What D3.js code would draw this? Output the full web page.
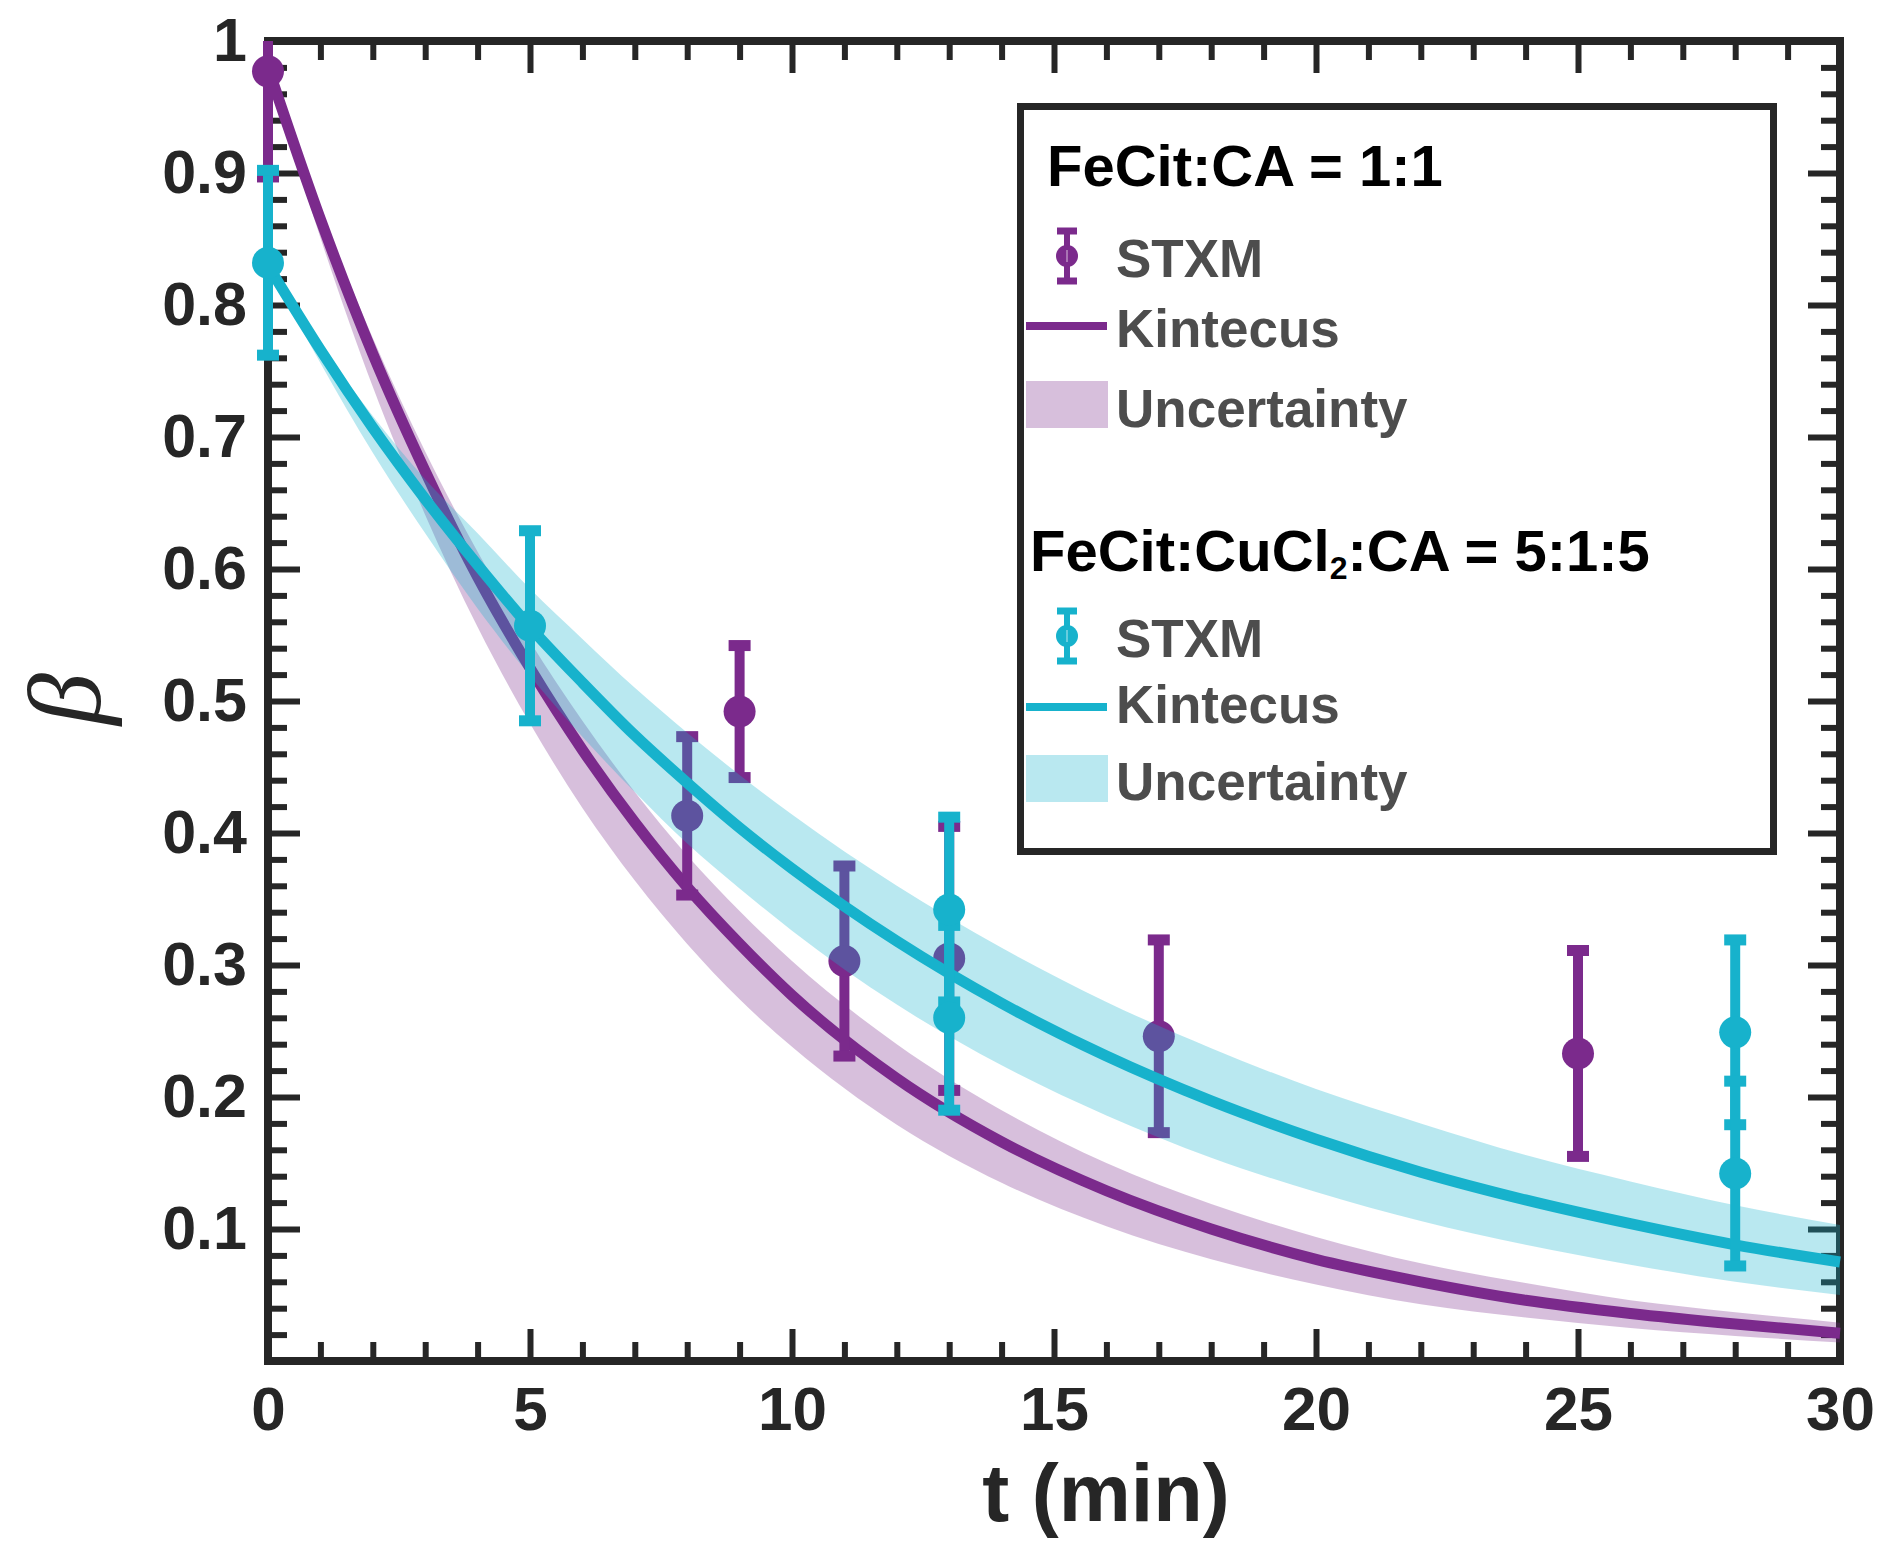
<!DOCTYPE html>
<html>
<head>
<meta charset="utf-8">
<script src="https://cdn.jsdelivr.net/npm/d3@7"></script>
<style>
  html, body { margin: 0; padding: 0; background: #fff; }
  svg { display: block; }
</style>
</head>
<body>
<script>
// ---------------- data ----------------
const purpleT    = [0, 8, 9, 11, 13, 17, 25];
const purpleBeta = [0.977, 0.413, 0.492, 0.303, 0.305, 0.246, 0.233];
const purpleErr  = [0.080, 0.060, 0.050, 0.072, 0.100, 0.073, 0.078];

const cyanT    = [0, 5, 13, 13, 28, 28];
const cyanBeta = [0.832, 0.557, 0.342, 0.260, 0.249, 0.142];
const cyanErr  = [0.070, 0.072, 0.070, 0.070, 0.070, 0.070];

const modelT      = [0, 1, 2, 3, 4, 5, 6, 7, 8, 9, 10, 12, 14, 16, 18, 20, 22, 24, 26, 28, 30];
const purpleModel = [0.980, 0.865, 0.763, 0.674, 0.594, 0.525, 0.463, 0.408, 0.359, 0.316, 0.277, 0.214, 0.166, 0.129, 0.100, 0.077, 0.060, 0.046, 0.036, 0.028, 0.021];
const purpleLow   = [0.980, 0.851, 0.738, 0.641, 0.556, 0.483, 0.419, 0.364, 0.316, 0.274, 0.238, 0.179, 0.135, 0.102, 0.077, 0.058, 0.043, 0.033, 0.025, 0.019, 0.014];
const purpleHigh  = [0.980, 0.872, 0.775, 0.689, 0.613, 0.545, 0.485, 0.431, 0.383, 0.341, 0.303, 0.240, 0.190, 0.150, 0.119, 0.094, 0.074, 0.059, 0.046, 0.037, 0.029];
const cyanModel   = [0.830, 0.766, 0.707, 0.653, 0.603, 0.556, 0.514, 0.474, 0.438, 0.404, 0.373, 0.318, 0.271, 0.231, 0.197, 0.168, 0.143, 0.122, 0.104, 0.088, 0.075];
const cyanLow     = [0.830, 0.756, 0.688, 0.627, 0.570, 0.519, 0.473, 0.431, 0.392, 0.358, 0.326, 0.270, 0.224, 0.186, 0.154, 0.128, 0.106, 0.088, 0.073, 0.060, 0.050];
const cyanHigh    = [0.830, 0.770, 0.716, 0.668, 0.627, 0.585, 0.547, 0.510, 0.476, 0.444, 0.414, 0.360, 0.313, 0.272, 0.237, 0.206, 0.180, 0.156, 0.136, 0.118, 0.103];

const xTickValues = [0, 5, 10, 15, 20, 25, 30];
const xTickLabels = ["0", "5", "10", "15", "20", "25", "30"];
const yTickValues = [0.1, 0.2, 0.3, 0.4, 0.5, 0.6, 0.7, 0.8, 0.9, 1.0];
const yTickLabels = ["0.1", "0.2", "0.3", "0.4", "0.5", "0.6", "0.7", "0.8", "0.9", "1"];
const xMinorTicks = d3.range(0, 31, 1);
const yMinorTicks = d3.range(0, 51, 1).map(i => i * 0.02);

const legendGroups = [
  { title: "FeCit:CA = 1:1", color: "#7B2A8C", labels: ["STXM", "Kintecus", "Uncertainty"] },
  { title: ["FeCit:CuCl", "2", ":CA = 5:1:5"], color: "#17B2CC", labels: ["STXM", "Kintecus", "Uncertainty"] }
];

// ---------------- drawing ----------------
const W = 1892, H = 1555;
const PURPLE = "#7B2A8C", CYAN = "#17B2CC", INK = "#262626";
const L = 268, R = 1840, T = 41, B = 1361;

const svg = d3.select("body").append("svg").attr("width", W).attr("height", H)
  .style("font-family", "'Liberation Sans', Arial, sans-serif");
svg.append("rect").attr("width", W).attr("height", H).attr("fill", "#fff");

const x = d3.scaleLinear().domain([0, 30]).range([L, R]);
const y = d3.scaleLinear().domain([0, 1]).range([B, T]);

function styleTicks(g) {
  g.select(".domain").remove();
  g.selectAll(".tick line").attr("stroke", INK).attr("stroke-width", 6);
}
const minorX = xMinorTicks.filter(v => v % 5 !== 0);
const minorY = yMinorTicks.filter(v => Math.abs(v * 10 - Math.round(v * 10)) > 1e-6);
const majorX = xTickValues;
const majorY = d3.range(1, 10).map(i => i / 10);

const MINOR = 19, MAJOR = 32;
// bottom
svg.append("g").attr("transform", `translate(0,${B})`)
  .call(d3.axisBottom(x).tickValues(minorX).tickSize(-MINOR).tickFormat("")).call(styleTicks);
svg.append("g").attr("transform", `translate(0,${B})`)
  .call(d3.axisBottom(x).tickValues(majorX).tickSize(-MAJOR).tickPadding(25)
    .tickFormat((d, i) => xTickLabels[i]))
  .call(styleTicks)
  .call(g => g.selectAll("text").attr("fill", INK).attr("font-size", 62).attr("font-weight", "bold"));
// top
svg.append("g").attr("transform", `translate(0,${T})`)
  .call(d3.axisTop(x).tickValues(minorX).tickSize(-MINOR).tickFormat("")).call(styleTicks);
svg.append("g").attr("transform", `translate(0,${T})`)
  .call(d3.axisTop(x).tickValues(majorX).tickSize(-MAJOR).tickFormat("")).call(styleTicks);
// left
svg.append("g").attr("transform", `translate(${L},0)`)
  .call(d3.axisLeft(y).tickValues(minorY).tickSize(-MINOR).tickFormat("")).call(styleTicks);
svg.append("g").attr("transform", `translate(${L},0)`)
  .call(d3.axisLeft(y).tickValues(majorY).tickSize(-MAJOR).tickFormat("")).call(styleTicks);
svg.append("g").attr("transform", `translate(${L},0)`)
  .call(d3.axisLeft(y).tickValues(yTickValues).tickSize(0).tickPadding(21)
    .tickFormat((d, i) => yTickLabels[i]))
  .call(g => g.select(".domain").remove())
  .call(g => g.selectAll("text").attr("fill", INK).attr("font-size", 61).attr("font-weight", "bold"));
// right
svg.append("g").attr("transform", `translate(${R},0)`)
  .call(d3.axisRight(y).tickValues(minorY).tickSize(-MINOR).tickFormat("")).call(styleTicks);
svg.append("g").attr("transform", `translate(${R},0)`)
  .call(d3.axisRight(y).tickValues(majorY).tickSize(-MAJOR).tickFormat("")).call(styleTicks);

// frame
svg.append("rect").attr("x", L).attr("y", T).attr("width", R - L).attr("height", B - T)
  .attr("fill", "none").attr("stroke", INK).attr("stroke-width", 8);

// axis titles
svg.append("text").attr("x", 1106).attr("y", 1521).attr("text-anchor", "middle")
  .attr("font-size", 81).attr("font-weight", "bold").attr("fill", INK).text("t (min)");
svg.append("text").attr("transform", "translate(100,699) rotate(-90)").attr("text-anchor", "middle")
  .attr("font-family", "'Liberation Serif', 'DejaVu Serif', serif").attr("font-style", "italic")
  .attr("font-size", 104).attr("fill", INK).text("β");

// clip for model curves
svg.append("clipPath").attr("id", "plotclip").append("rect")
  .attr("x", L).attr("y", T).attr("width", R - L).attr("height", B - T);

const area = d3.area().x(d => x(d.t)).y0(d => y(d.lo)).y1(d => y(d.hi)).curve(d3.curveMonotoneX);
const line = d3.line().x(d => x(d.t)).y(d => y(d.v)).curve(d3.curveMonotoneX);

function drawSeries(color, model, lo, hi, ts, vs, es) {
  const bandData = modelT.map((t, i) => ({ t, lo: lo[i], hi: hi[i] }));
  const lineData = modelT.map((t, i) => ({ t, v: model[i] }));
  const g = svg.append("g");
  g.append("path").datum(bandData).attr("d", area).attr("fill", color).attr("fill-opacity", 0.3)
    .attr("clip-path", "url(#plotclip)");
  g.append("path").datum(lineData).attr("d", line).attr("fill", "none").attr("stroke", color)
    .attr("stroke-width", 11);
  const pts = ts.map((t, i) => ({ t, v: vs[i], e: es[i] }));
  const eb = g.append("g");
  pts.forEach(p => {
    const top = Math.min(1, p.v + p.e), bot = Math.max(0, p.v - p.e);
    eb.append("line").attr("x1", x(p.t)).attr("x2", x(p.t)).attr("y1", y(top)).attr("y2", y(bot))
      .attr("stroke", color).attr("stroke-width", 10);
    if (p.v + p.e <= 1) {
      eb.append("line").attr("x1", x(p.t) - 11).attr("x2", x(p.t) + 11)
        .attr("y1", y(top)).attr("y2", y(top)).attr("stroke", color).attr("stroke-width", 11);
    }
    eb.append("line").attr("x1", x(p.t) - 11).attr("x2", x(p.t) + 11)
      .attr("y1", y(bot)).attr("y2", y(bot)).attr("stroke", color).attr("stroke-width", 11);
  });
  g.selectAll("circle.pt").data(pts).join("circle").attr("class", "pt")
    .attr("cx", d => x(d.t)).attr("cy", d => y(d.v)).attr("r", 16).attr("fill", color);
}

drawSeries(PURPLE, purpleModel, purpleLow, purpleHigh, purpleT, purpleBeta, purpleErr);
drawSeries(CYAN, cyanModel, cyanLow, cyanHigh, cyanT, cyanBeta, cyanErr);

// ---------------- legend ----------------
const lg = svg.append("g");
lg.append("rect").attr("x", 1020.5).attr("y", 106.5).attr("width", 753).attr("height", 745)
  .attr("fill", "#fff").attr("stroke", INK).attr("stroke-width", 7);

const groupLayout = [
  { titleX: 1047, titleY: 186, barY: 256, lineY: 326, swY: 381, texY: [277, 347, 427] },
  { titleX: 1030, titleY: 571, barY: 636, lineY: 707, swY: 755, texY: [657, 723, 800] }
];
legendGroups.forEach((grp, gi) => {
  const lay = groupLayout[gi];
  const t = lg.append("text").attr("x", lay.titleX).attr("y", lay.titleY)
    .attr("font-size", 58).attr("font-weight", "bold").attr("fill", "#000");
  if (Array.isArray(grp.title)) {
    t.append("tspan").text(grp.title[0]);
    t.append("tspan").attr("font-size", 32).attr("dy", 8).text(grp.title[1]);
    t.append("tspan").attr("dy", -8).text(grp.title[2]);
  } else {
    t.text(grp.title);
  }
  // error-bar icon
  const cx = 1067;
  lg.append("line").attr("x1", cx).attr("x2", cx).attr("y1", lay.barY - 26).attr("y2", lay.barY + 26)
    .attr("stroke", grp.color).attr("stroke-width", 6);
  [lay.barY - 25, lay.barY + 25].forEach(yy =>
    lg.append("line").attr("x1", cx - 10).attr("x2", cx + 10).attr("y1", yy).attr("y2", yy)
      .attr("stroke", grp.color).attr("stroke-width", 7));
  lg.append("circle").attr("cx", cx).attr("cy", lay.barY).attr("r", 11).attr("fill", grp.color);
  lg.append("line").attr("x1", cx).attr("x2", cx).attr("y1", lay.barY - 6).attr("y2", lay.barY + 6)
    .attr("stroke", "#fff").attr("stroke-opacity", 0.35).attr("stroke-width", 2);
  // line icon
  lg.append("line").attr("x1", 1026).attr("x2", 1107).attr("y1", lay.lineY).attr("y2", lay.lineY)
    .attr("stroke", grp.color).attr("stroke-width", 8);
  // swatch
  lg.append("rect").attr("x", 1026).attr("y", lay.swY).attr("width", 82).attr("height", 47)
    .attr("fill", grp.color).attr("fill-opacity", 0.3);
  grp.labels.forEach((lab, li) => {
    lg.append("text").attr("x", 1116).attr("y", lay.texY[li]).attr("font-size", 53)
      .attr("font-weight", "bold").attr("fill", "#4D4D4D").text(lab);
  });
});
</script>
</body>
</html>
